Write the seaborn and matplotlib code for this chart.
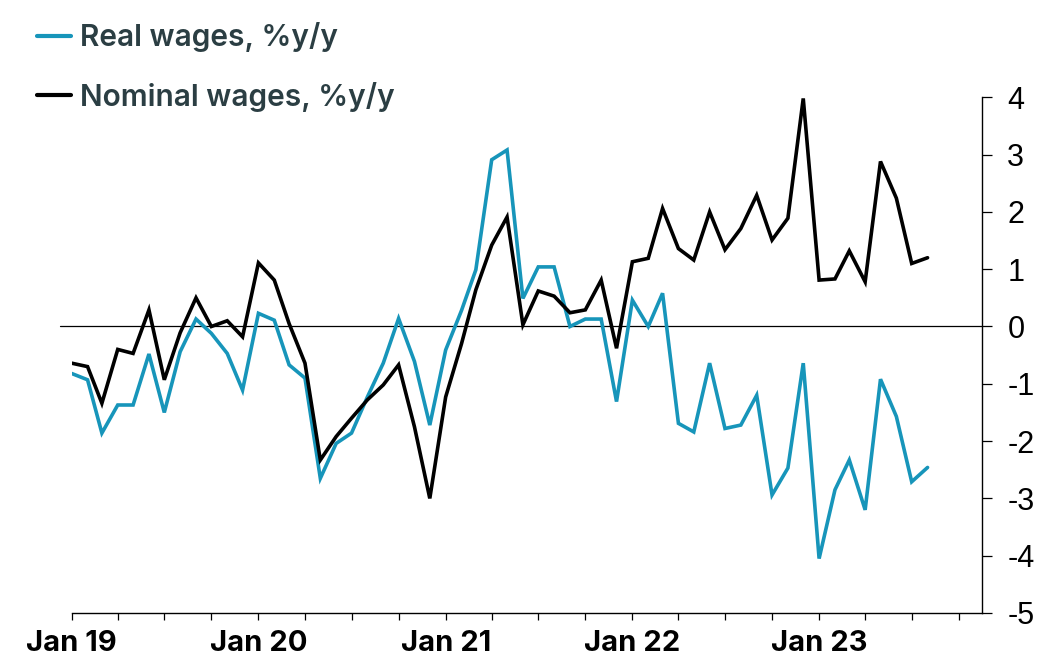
import numpy as np
import pandas as pd
import matplotlib
matplotlib.use("Agg")
import matplotlib.pyplot as plt
import matplotlib.dates as mdates
import seaborn as sns

# ---- data (monthly, Jan 2019 - Aug 2023) ----
start_month = "2019-01-01"
n_months = 56
real_wages = [
    -0.82, -0.93, -1.86, -1.37, -1.37, -0.48, -1.50, -0.44, 0.13, -0.12, -0.47, -1.11,
    0.23, 0.11, -0.67, -0.90, -2.65, -2.04, -1.86, -1.23, -0.64, 0.14, -0.61, -1.72,
    -0.41, 0.28, 0.99, 2.91, 3.08, 0.49, 1.04, 1.04, 0.00, 0.13, 0.13, -1.31,
    0.46, 0.00, 0.58, -1.69, -1.84, -0.64, -1.78, -1.72, -1.20, -2.94, -2.47, -0.64,
    -4.05, -2.85, -2.33, -3.20, -0.92, -1.57, -2.71, -2.46,
]
nominal_wages = [
    -0.64, -0.70, -1.34, -0.40, -0.47, 0.29, -0.93, -0.11, 0.50, 0.00, 0.10, -0.18,
    1.11, 0.81, 0.05, -0.64, -2.33, -1.92, -1.60, -1.28, -1.02, -0.67, -1.75, -3.00,
    -1.23, -0.30, 0.64, 1.42, 1.91, 0.03, 0.62, 0.53, 0.24, 0.29, 0.81, -0.38,
    1.13, 1.19, 2.06, 1.36, 1.16, 2.00, 1.34, 1.71, 2.29, 1.51, 1.89, 3.98,
    0.81, 0.83, 1.32, 0.78, 2.88, 2.24, 1.10, 1.20,
]
series_labels = ["Real wages, %y/y", "Nominal wages, %y/y"]
series_colors = ["#1795ba", "#000000"]
y_ticks = [4, 3, 2, 1, 0, -1, -2, -3, -4, -5]

months = pd.date_range(start_month, periods=n_months, freq="MS")
df = pd.DataFrame({
    "date": np.concatenate([months.values, months.values]),
    "value": real_wages + nominal_wages,
    "series": [series_labels[0]] * n_months + [series_labels[1]] * n_months,
})

sns.set_theme(style="white")
plt.rcParams["font.family"] = ["Inter", "DejaVu Sans"]
plt.rcParams["axes.unicode_minus"] = False

fig = plt.figure(figsize=(10.6, 6.72), dpi=100)
ax = fig.add_axes([71.7 / 1060, 1 - 613 / 672, (982.3 - 71.7) / 1060, (613 - 97.3) / 672])

sns.lineplot(data=df, x="date", y="value", hue="series", hue_order=series_labels,
             palette=series_colors, linewidth=2.6, estimator=None, errorbar=None,
             legend=False, ax=ax)
handles = list(ax.get_lines()[:2])
for h in handles:
    h.set_solid_joinstyle("miter")

ax.axhline(0, xmin=-0.013, xmax=1, color="black", lw=0.9, clip_on=False, zorder=1)

ax.set_xlim(pd.Timestamp("2019-01-01"), pd.Timestamp("2023-11-16"))
ax.set_ylim(-5, 4)
ax.set_xlabel("")
ax.set_ylabel("")

for s in ["left", "top"]:
    ax.spines[s].set_visible(False)
for s in ["right", "bottom"]:
    ax.spines[s].set_visible(True)
    ax.spines[s].set_color("black")
    ax.spines[s].set_linewidth(1.0)

ax.yaxis.tick_right()
ax.set_yticks(y_ticks)
ax.set_yticklabels([str(v) for v in y_ticks])
ax.tick_params(axis="y", which="both", right=True, left=False, direction="out",
               length=7, width=0.9, color="black", labelsize=22, pad=11,
               labelcolor="black")
for lab in ax.get_yticklabels():
    lab.set_fontfamily(["Liberation Sans", "DejaVu Sans"])

ax.xaxis.set_major_locator(mdates.YearLocator())
ax.xaxis.set_major_formatter(mdates.DateFormatter("%b %y"))
ax.xaxis.set_minor_locator(mdates.MonthLocator(bymonth=[4, 7, 10]))
ax.tick_params(axis="x", which="both", bottom=True, direction="out", length=5,
               width=0.9, color="black")
ax.tick_params(axis="x", which="major", labelsize=21, pad=7, labelcolor="black")
for lab in ax.get_xticklabels():
    lab.set_fontweight("bold")

leg = fig.legend(handles, series_labels, loc="upper left",
                 bbox_to_anchor=(37 / 1060, 1 - 22 / 672),
                 frameon=False, handlelength=1.13, handletextpad=0.30,
                 labelspacing=1.0, borderpad=0, borderaxespad=0,
                 prop={"family": "Inter", "weight": "semibold", "size": 21.5},
                 labelcolor="#2b3e43")
for lh in leg.get_lines():
    lh.set_linewidth(3.0)

fig.savefig("out.png", dpi=100)
